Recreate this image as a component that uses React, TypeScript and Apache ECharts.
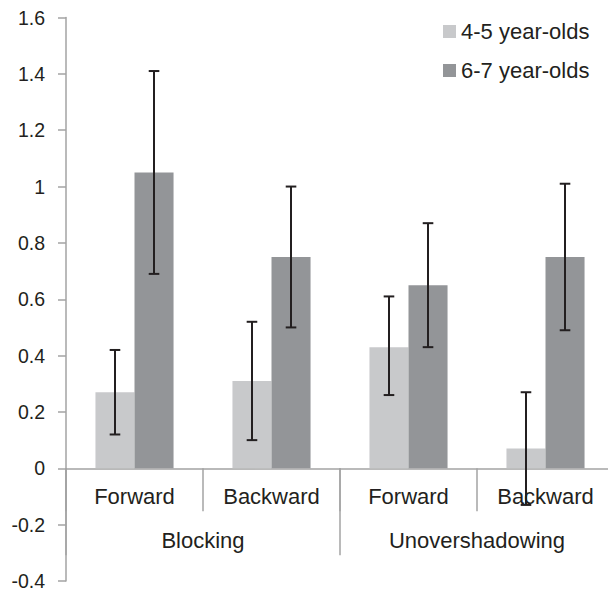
import React, { useEffect, useRef } from "react";
import * as echarts from "echarts";

const conditions = ["Forward", "Backward", "Forward", "Backward"];
const groups = ["Blocking", "Unovershadowing"];
const seriesNames = ["4-5 year-olds", "6-7 year-olds"];
const young = [0.27, 0.31, 0.43, 0.07];
const youngLow = [0.12, 0.1, 0.26, -0.13];
const youngHigh = [0.42, 0.52, 0.61, 0.27];
const old = [1.05, 0.75, 0.65, 0.75];
const oldLow = [0.69, 0.5, 0.43, 0.49];
const oldHigh = [1.41, 1.0, 0.87, 1.01];
const yMin = -0.4;
const yMax = 1.6;
const yStep = 0.2;

const LIGHT = "#c8c9cb";
const DARK = "#939598";
const AXIS = "#a3a3a3";
const TEXT = "#231f20";
const FONT = "Liberation Sans, Arial, sans-serif";
const BAR_FRAC = 0.285;

const W = 608;
const H = 591;
const GRID_TOP = 17.5;
const GRID_BOTTOM = 10;
const GRID_H = H - GRID_TOP - GRID_BOTTOM;
// move the category axes up from the grid bottom to the zero line
const ZERO_OFFSET = -(GRID_H * (0 - yMin)) / (yMax - yMin);

function errorSeries(low: number[], high: number[], side: number) {
  return {
    type: "custom",
    xAxisIndex: 0,
    yAxisIndex: 0,
    z: 5,
    silent: true,
    data: low.map((l, i) => [i, l, high[i]]),
    encode: { x: 0, y: [1, 2] },
    renderItem: (params: any, api: any) => {
      const idx = api.value(0);
      const lo = api.coord([idx, api.value(1)]);
      const hi = api.coord([idx, api.value(2)]);
      const band = api.size([1, 0])[0];
      const x = lo[0] + side * band * BAR_FRAC * 0.5;
      const cap = 5.3;
      const style = { stroke: TEXT, lineWidth: 2 };
      return {
        type: "group",
        children: [
          { type: "line", shape: { x1: x, y1: lo[1], x2: x, y2: hi[1] }, style },
          { type: "line", shape: { x1: x - cap, y1: lo[1], x2: x + cap, y2: lo[1] }, style },
          { type: "line", shape: { x1: x - cap, y1: hi[1], x2: x + cap, y2: hi[1] }, style },
        ],
      };
    },
  };
}

export default function App() {
  const ref = useRef<HTMLDivElement>(null);
  useEffect(() => {
    if (!ref.current) return;
    const chart = echarts.init(ref.current, undefined, { renderer: "svg" });
    chart.setOption({
      animation: false,
      textStyle: { fontFamily: FONT },
      grid: {
        left: 66,
        right: -6,
        top: GRID_TOP,
        bottom: GRID_BOTTOM,
        containLabel: false,
        outerBoundsMode: "none",
      },
      legend: {
        data: seriesNames,
        orient: "vertical",
        left: 438,
        top: 15.5,
        itemWidth: 13,
        itemHeight: 13,
        itemGap: 17,
        icon: "rect",
        textStyle: { fontSize: 22, color: TEXT, fontFamily: FONT },
      },
      xAxis: [
        {
          type: "category",
          position: "bottom",
          offset: ZERO_OFFSET,
          data: conditions,
          axisLine: { onZero: false, lineStyle: { color: AXIS, width: 1.5 } },
          axisTick: { show: true, length: 43, interval: 0, lineStyle: { color: AXIS, width: 1.5 } },
          axisLabel: { margin: 17, fontSize: 22, color: TEXT, fontFamily: FONT, interval: 0 },
          splitLine: { show: false },
        },
        {
          type: "category",
          position: "bottom",
          offset: ZERO_OFFSET,
          data: groups,
          axisLine: { show: false, onZero: false },
          axisTick: { show: true, length: 87, interval: 0, lineStyle: { color: AXIS, width: 1.5 } },
          axisLabel: { margin: 61, fontSize: 22, color: TEXT, fontFamily: FONT, interval: 0 },
          splitLine: { show: false },
        },
      ],
      yAxis: {
        type: "value",
        min: yMin,
        max: yMax,
        interval: yStep,
        axisLine: { show: true, onZero: false, lineStyle: { color: AXIS, width: 1.5 } },
        axisTick: { show: true, length: 8, lineStyle: { color: AXIS, width: 1.5 } },
        axisLabel: { margin: 21, fontSize: 19.5, lineHeight: 16, color: TEXT, fontFamily: FONT },
        splitLine: { show: false },
      },
      series: [
        {
          name: seriesNames[0],
          type: "bar",
          xAxisIndex: 0,
          data: young,
          barWidth: (BAR_FRAC * 100).toFixed(1) + "%",
          barGap: "0%",
          itemStyle: { color: LIGHT },
        },
        {
          name: seriesNames[1],
          type: "bar",
          xAxisIndex: 0,
          data: old,
          barWidth: (BAR_FRAC * 100).toFixed(1) + "%",
          barGap: "0%",
          itemStyle: { color: DARK },
        },
        errorSeries(youngLow, youngHigh, -1),
        errorSeries(oldLow, oldHigh, 1),
      ],
    });
    return () => chart.dispose();
  }, []);
  return <div ref={ref} style={{ width: W, height: H, position: "absolute", left: 0, top: 0 }} />;
}
